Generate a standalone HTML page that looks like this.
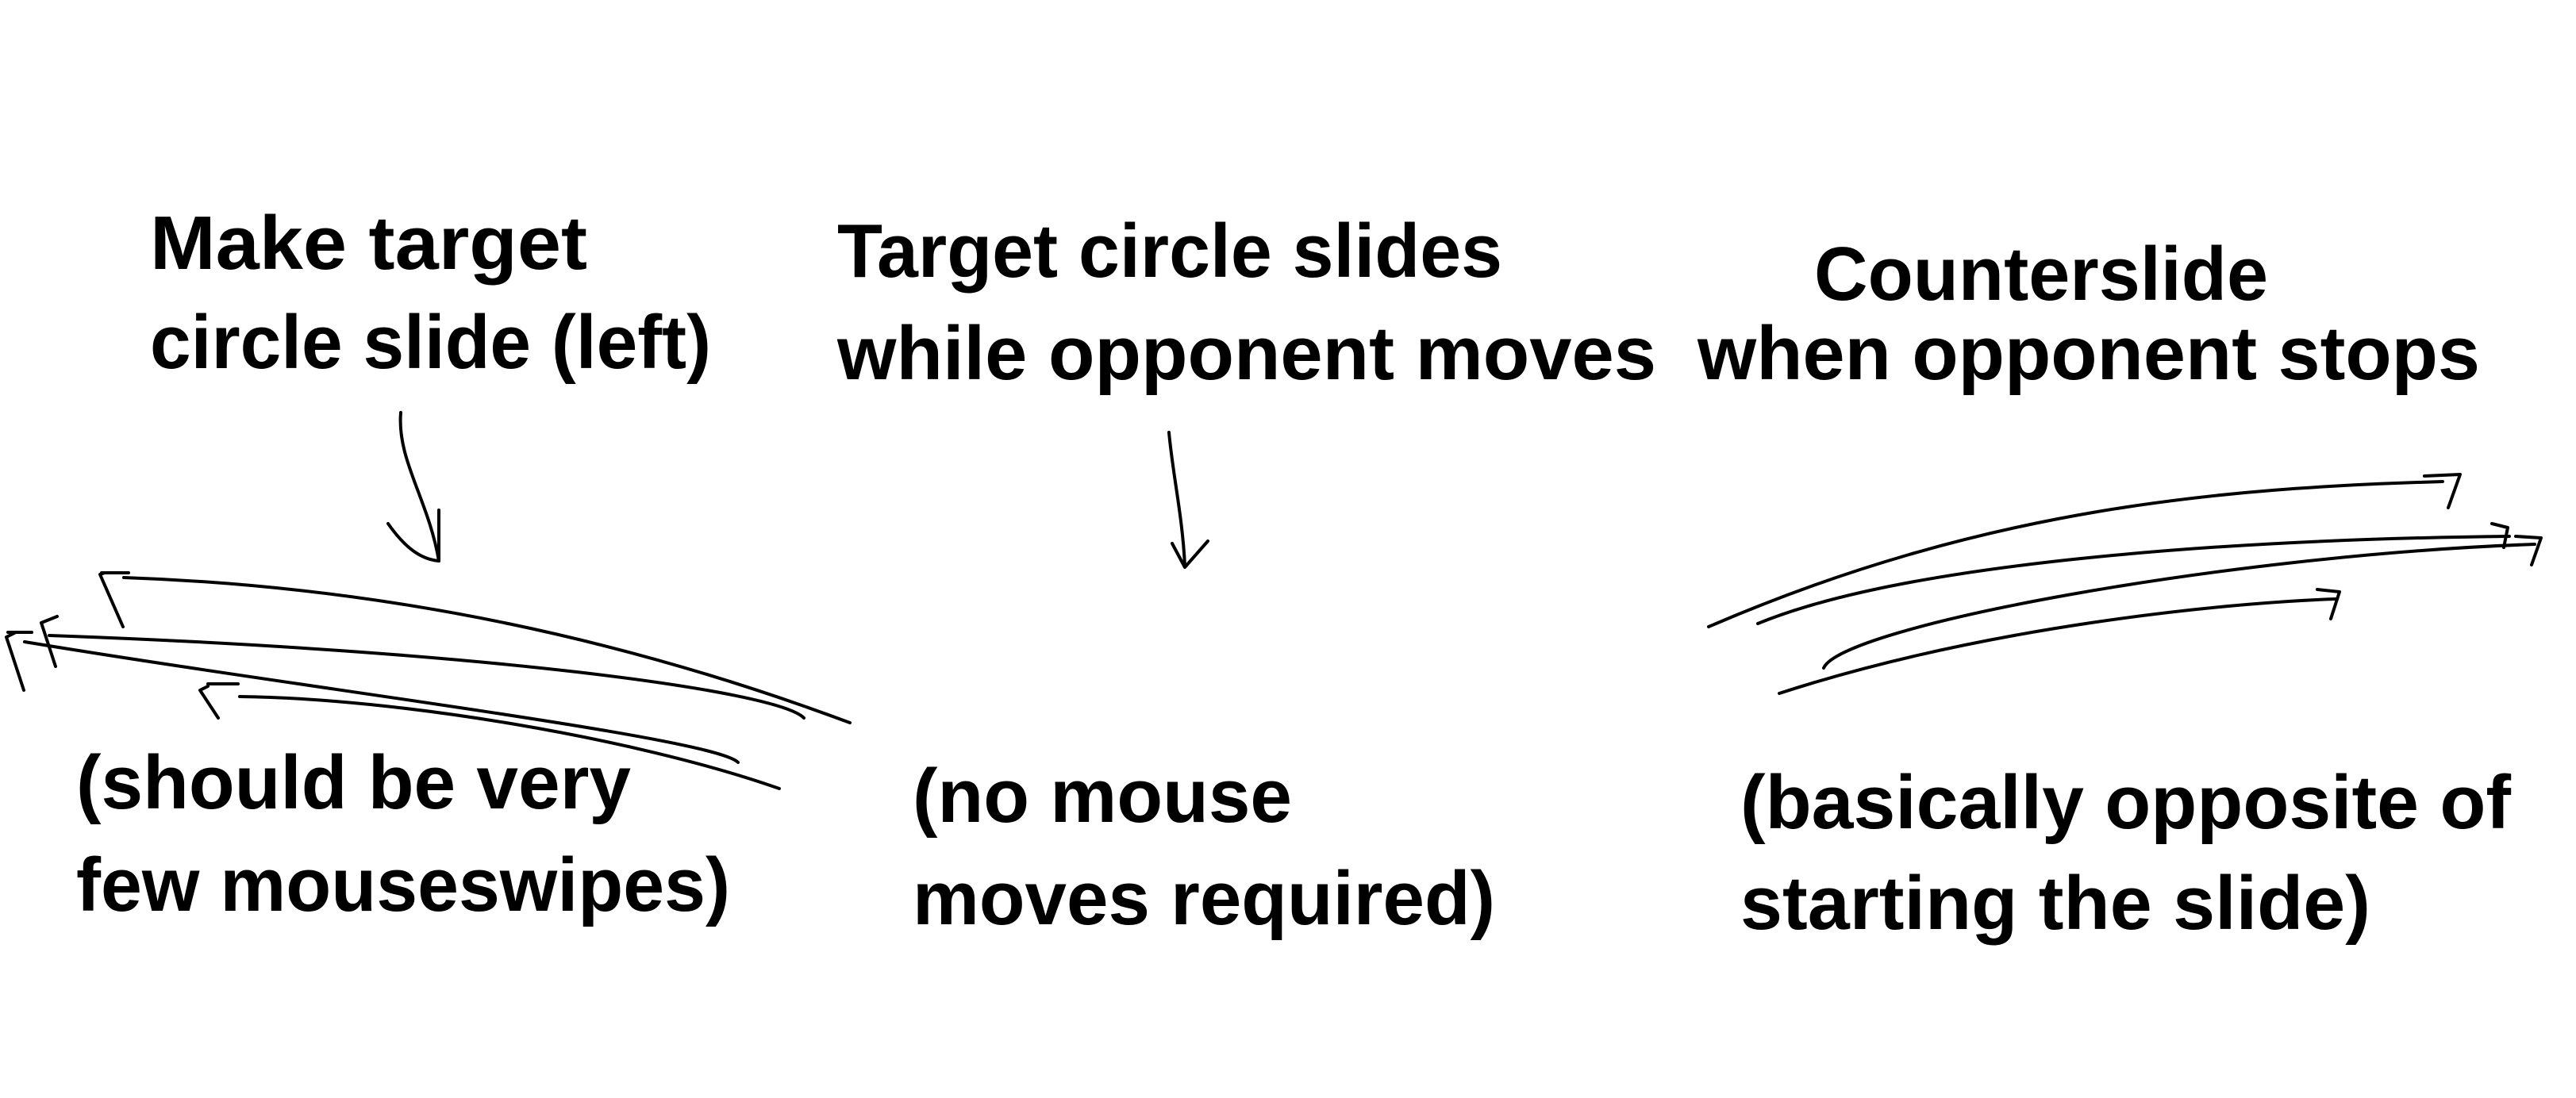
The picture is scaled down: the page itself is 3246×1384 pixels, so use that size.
<!DOCTYPE html>
<html><head><meta charset="utf-8"><style>html,body{margin:0;padding:0;background:#fff}svg{display:block}</style></head>
<body>
<svg width="3246" height="1384" viewBox="0 0 3246 1384" xmlns="http://www.w3.org/2000/svg">
<rect width="3246" height="1384" fill="#fff"/>
<g font-family="Liberation Sans, sans-serif" font-weight="bold" font-size="96" fill="#000">
<text x="189" y="339" textLength="551" lengthAdjust="spacingAndGlyphs">Make target</text>
<text x="189" y="464" textLength="707" lengthAdjust="spacingAndGlyphs">circle slide (left)</text>
<text x="1055" y="349" textLength="838" lengthAdjust="spacingAndGlyphs">Target circle slides</text>
<text x="1055" y="478" textLength="1032" lengthAdjust="spacingAndGlyphs">while opponent moves</text>
<text x="2286" y="378" textLength="572" lengthAdjust="spacingAndGlyphs">Counterslide</text>
<text x="2139" y="478" textLength="986" lengthAdjust="spacingAndGlyphs">when opponent stops</text>
<text x="96" y="1019" textLength="699" lengthAdjust="spacingAndGlyphs">(should be very</text>
<text x="96" y="1148" textLength="824" lengthAdjust="spacingAndGlyphs">few mouseswipes)</text>
<text x="1150" y="1036" textLength="478" lengthAdjust="spacingAndGlyphs">(no mouse</text>
<text x="1150" y="1165" textLength="734" lengthAdjust="spacingAndGlyphs">moves required)</text>
<text x="2193" y="1044" textLength="971" lengthAdjust="spacingAndGlyphs">(basically opposite of</text>
<text x="2193" y="1171" textLength="794" lengthAdjust="spacingAndGlyphs">starting the slide)</text>
</g>
<g fill="none" stroke="#000" stroke-width="4" stroke-linecap="round" stroke-linejoin="round">
<path d="M505 520 C500 580 540 630 553 707"/>
<path d="M489 660 C510 690 530 705 553 707"/>
<path d="M553 707 L553 643"/>
<path d="M1473 545 C1478 600 1490 650 1493 713"/>
<path d="M1477 685 L1493 715 L1522 682"/>
<path d="M1071 911 C800 810 500 740 156 728"/>
<path d="M132 722 L126 724 L155 790"/>
<path d="M128 722 L162 722"/>
<path d="M1013 905 C980 870 600 820 62 801"/>
<path d="M72 777 L52 785 L70 840"/>
<path d="M930 961 C900 930 400 870 31 809"/>
<path d="M20 797 L8 803 L30 870"/>
<path d="M10 797 L40 797"/>
<path d="M982 994 C800 930 500 880 302 878"/>
<path d="M262 865 L252 870 L275 905"/>
<path d="M262 862 L300 862"/>
<path d="M2153 790 C2500 640 2800 615 3078 607"/>
<path d="M3055 600 L3100 598 L3085 640"/>
<path d="M2215 786 C2400 710 2800 680 3162 676"/>
<path d="M3140 660 L3160 665 L3155 690"/>
<path d="M2298 842 C2320 790 2800 700 3194 686"/>
<path d="M3170 676 L3202 678 L3190 712"/>
<path d="M2242 874 C2500 790 2800 760 2943 755"/>
<path d="M2920 743 L2948 746 L2937 780"/>
</g>
</svg>
</body></html>
